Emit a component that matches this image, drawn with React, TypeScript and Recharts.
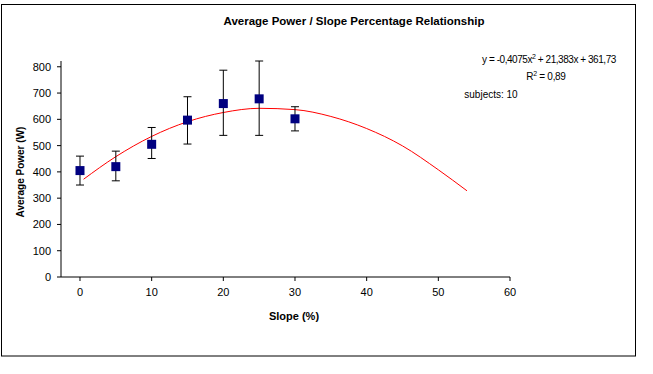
import React from 'react';
import { ComposedChart, XAxis, YAxis, Scatter, Line, ErrorBar } from 'recharts';

const slopes = [0, 5, 10, 15, 20, 25, 30];
const powerMean = [405, 420, 505, 597, 660, 678, 602];
const powerLow = [350, 366, 451, 506, 539, 539, 556];
const powerHigh = [460, 479, 569, 686, 787, 822, 648];

const trendX = [0.5, 5, 10, 15, 20, 25, 30, 35, 40, 45, 50, 54];
const trendY = [372, 458, 535, 591, 626, 642, 637, 611, 565, 499, 408, 328];

const xTicks = [0, 10, 20, 30, 40, 50, 60];
const yTicks = [0, 100, 200, 300, 400, 500, 600, 700, 800];

const title = 'Average Power / Slope Percentage Relationship';
const xLabel = 'Slope (%)';
const yLabel = 'Average Power (W)';
const subjectsText = 'subjects: 10';

const points = slopes.map((x, i) => ({
  x,
  y: powerMean[i],
  err: [powerMean[i] - powerLow[i], powerHigh[i] - powerMean[i]],
}));
const trend = trendX.map((x, i) => ({ x, y: trendY[i] }));

const FONT = '"Liberation Sans", Arial, sans-serif';

const Square = (props: any) => {
  const { cx, cy } = props;
  if (cx == null || cy == null) return null;
  return <rect x={cx - 4.5} y={cy - 4.5} width={9} height={9} fill="#000080" />;
};

export default function App() {
  return (
    <div style={{ position: 'absolute', left: 0, top: 0, width: 653, height: 374, background: '#fff' }}>
      <ComposedChart
        width={653}
        height={374}
        margin={{ top: 61, right: 143, bottom: 67, left: 1 }}
      >
        <XAxis
          type="number"
          dataKey="x"
          domain={[-2.65, 60]}
          ticks={xTicks}
          allowDataOverflow
          height={30}
          axisLine={{ stroke: '#000' }}
          tickLine={{ stroke: '#000' }}
          tickSize={4}
          tickMargin={7}
          tick={{ fill: '#000', fontSize: 11, fontFamily: FONT }}
        />
        <YAxis
          type="number"
          dataKey="y"
          domain={[0, 800]}
          ticks={yTicks}
          width={60}
          axisLine={{ stroke: '#000' }}
          tickLine={{ stroke: '#000' }}
          tickSize={4}
          tickMargin={6}
          tick={{ fill: '#000', fontSize: 11, fontFamily: FONT }}
        />
        <Line
          data={trend}
          dataKey="y"
          type="monotone"
          stroke="#ff0000"
          strokeWidth={1}
          dot={false}
          activeDot={false}
          isAnimationActive={false}
        />
        <Scatter data={points} dataKey="y" shape={<Square />} isAnimationActive={false}>
          <ErrorBar dataKey="err" direction="y" width={4} stroke="#000" strokeWidth={1} isAnimationActive={false} />
        </Scatter>
      </ComposedChart>
      <svg
        width={653}
        height={374}
        style={{ position: 'absolute', left: 0, top: 0, pointerEvents: 'none' }}
      >
        <rect x={1.5} y={4.5} width={634} height={351.5} fill="none" stroke="#000" strokeWidth={1} />
        <text x={354} y={25} textAnchor="middle" fontFamily={FONT} fontSize={11.5} fontWeight="bold" fill="#000">
          {title}
        </text>
        <text x={294} y={320} textAnchor="middle" fontFamily={FONT} fontSize={11} fontWeight="bold" fill="#000">
          {xLabel}
        </text>
        <text
          x={0}
          y={0}
          transform="translate(24,172) rotate(-90)"
          textAnchor="middle"
          fontFamily={FONT}
          fontSize={10}
          fontWeight="bold"
          fill="#000"
        >
          {yLabel}
        </text>
        <text x={549} y={63} textAnchor="middle" fontFamily={FONT} fontSize={10} letterSpacing={-0.45} fill="#000">
          y = -0,4075x<tspan dy={-4} fontSize={7}>2</tspan><tspan dy={4}> + 21,383x + 361,73</tspan>
        </text>
        <text x={546} y={80} textAnchor="middle" fontFamily={FONT} fontSize={10} letterSpacing={-0.3} fill="#000">
          R<tspan dy={-4} fontSize={7}>2</tspan><tspan dy={4}> = 0,89</tspan>
        </text>
        <text x={491} y={98} textAnchor="middle" fontFamily={FONT} fontSize={10} fill="#000">
          {subjectsText}
        </text>
      </svg>
    </div>
  );
}
